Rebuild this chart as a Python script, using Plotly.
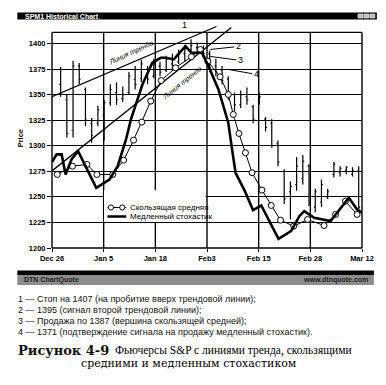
import plotly.graph_objects as go
import numpy as np

# ---------------- data ----------------
bar_day = list(range(49))
bar_high = [1377, 1350, 1383, 1381, 1357, 1327, 1339, 1345, 1360, 1362,
            1358, 1372, 1378, 1384, 1378, 1385, 1382, 1388, 1390, 1394,
            1398, 1404, 1401, 1398, 1393, 1385, 1378, 1368, 1352, 1354,
            1357, 1340, 1352, 1328, 1326, 1305, 1277, 1265, 1289, 1291,
            1282, 1258, 1267, 1258, 1284, 1280, 1280, 1279, 1280]
bar_low = [1348, 1308, 1308, 1360, 1319, 1303, 1319, 1305, 1339, 1340,
           1343, 1350, 1355, 1362, 1360, 1366, 1368, 1372, 1375, 1380,
           1382, 1386, 1389, 1386, 1372, 1368, 1360, 1345, 1334, 1337,
           1340, 1322, 1340, 1314, 1298, 1280, 1243, 1228, 1256, 1262,
           1241, 1235, 1240, 1248, 1269, 1270, 1272, 1270, 1236]
bar_open = [1360, 1345, 1315, 1378, 1355, 1322, 1322, 1330, 1342, 1352,
            1346, 1352, 1365, 1366, 1375, 1368, 1378, 1374, 1380, 1382,
            1390, 1394, 1396, 1392, 1390, 1378, 1374, 1365, 1350, 1340,
            1348, 1338, 1342, 1326, 1322, 1302, 1275, 1255, 1262, 1268,
            1280, 1240, 1245, 1250, 1272, 1274, 1276, 1272, 1276]
bar_close = [1352, 1312, 1378, 1365, 1325, 1310, 1335, 1342, 1355, 1345,
             1350, 1368, 1360, 1380, 1365, 1380, 1372, 1385, 1378, 1392,
             1395, 1398, 1392, 1390, 1376, 1372, 1364, 1350, 1340, 1350,
             1345, 1326, 1348, 1318, 1300, 1284, 1248, 1260, 1280, 1285,
             1245, 1255, 1262, 1255, 1282, 1278, 1279, 1276, 1240]

ma_day = [-0.54, 1.91, 4.24, 5.84, 8.39, 10.14, 11.74, 13.08, 14.51, 16.20,
          18.50, 21.05, 22.49, 23.70, 25.68, 27.0, 27.8, 28.71, 29.76, 30.83,
          32.42, 33.91, 35.41, 37.53, 39.76, 42.42, 44.27, 45.87, 47.74]
ma_value = [1271.9, 1280.0, 1281.7, 1271.9, 1271.9, 1285.9, 1305.4, 1323.1, 1343.6, 1363.8,
            1376.2, 1387.0, 1394.1, 1382.7, 1367.4, 1350.1, 1330.6, 1312.0, 1293.1, 1273.6,
            1256.6, 1241.6, 1227.2, 1221.4, 1227.9, 1222.0, 1232.8, 1245.8, 1232.8]

stoch_day = [-1.39, -0.64, 0.16, 0.80, 1.75, 2.81, 5.74, 7.86, 9.19, 10.53,
             11.32, 13.17, 14.77, 16.11, 16.91, 18.23, 20.10, 21.05, 22.74, 23.81,
             25.41, 27.0, 27.53, 28.17, 29.67, 30.99, 32.31, 35.09, 37.10, 38.44,
             39.23, 40.83, 43.48, 46.41, 47.74, 48.53]
stoch_value = [1284.0, 1291.5, 1291.5, 1271.9, 1286.6, 1294.7, 1258.9, 1267.0, 1280.0, 1306.1,
               1325.7, 1359.9, 1381.1, 1386.0, 1386.0, 1384.4, 1397.4, 1390.9, 1390.9, 1377.8,
               1355.0, 1322.5, 1299.6, 1273.6, 1255.6, 1237.0, 1241.6, 1209.0, 1216.5, 1231.1,
               1236.0, 1229.6, 1226.3, 1249.1, 1237.7, 1234.5]

trend1_day = [-1.39, 25.09]
trend1_price = [1348.0, 1416.6]
trend2_day = [-1.39, 27.48]
trend2_price = [1275.4, 1415.6]

x_tick_labels = ["Dec 26", "Jan 5", "Jan 18", "Feb3", "Feb 15", "Feb 28", "Mar 12"]
y_tick_values = [1200, 1225, 1250, 1275, 1300, 1325, 1350, 1375, 1400]

notes = [
    "1 — Стоп на 1407 (на пробитие вверх трендовой линии);",
    "2 — 1395 (сигнал второй трендовой линии);",
    "3 — Продажа по 1387 (вершина скользящей средней);",
    "4 — 1371 (подтверждение сигнала на продажу медленный стохастик).",
]
caption_head = "Рисунок 4-9"
caption1 = "Фьючерсы S&P с линиями тренда, скользящими"
caption2 = "средними и медленным стохастиком"

# ---------------- layout geometry ----------------
# the page body has an 8px margin, so the figure is placed 8px in from the window corner
OFF = 8
W, H = 386 - OFF, 385 - OFF
PL, PT, PR, PB = 52, 23, 365, 248          # plot-area edges in window pixels
L, T = PL - OFF, PT - OFF
R, B = W - (PR - OFF), H - (PB - OFF)
X0, X1 = -1.39, 48.53
Y0, Y1 = 1200, 1420
FRAME_TOP = 1410.8
pw, ph = PR - PL, PB - PT


def px(x):
    return (x - PL) / pw


def py(y):
    return (PB - y) / ph


frame_top_paper = (FRAME_TOP - Y0) / (Y1 - Y0)
x_tick_vals = list(np.linspace(X0, X1, len(x_tick_labels)))

fig = go.Figure()

fig.add_trace(go.Ohlc(
    x=bar_day, open=bar_open, high=bar_high, low=bar_low, close=bar_close,
    increasing=dict(line=dict(color="black", width=1.2)),
    decreasing=dict(line=dict(color="black", width=1.2)),
    tickwidth=0.22, showlegend=False, hoverinfo="skip"))

for xd, yd in ((trend1_day, trend1_price), (trend2_day, trend2_price)):
    fig.add_trace(go.Scatter(x=xd, y=yd, mode="lines",
                             line=dict(color="black", width=1.3),
                             showlegend=False, hoverinfo="skip"))

fig.add_trace(go.Scatter(x=ma_day, y=ma_value, mode="lines+markers",
                         line=dict(color="black", width=1),
                         marker=dict(symbol="circle", size=6, color="white",
                                     line=dict(color="black", width=1)),
                         showlegend=False, hoverinfo="skip"))

fig.add_trace(go.Scatter(x=stoch_day, y=stoch_value, mode="lines",
                         line=dict(color="black", width=2.6),
                         showlegend=False, hoverinfo="skip"))

shapes = []
n_t = len(x_tick_labels)
for k in range(n_t):
    shapes.append(dict(type="line", xref="paper", yref="paper",
                       x0=k / (n_t - 1), x1=k / (n_t - 1),
                       y0=0, y1=frame_top_paper,
                       line=dict(color="black", width=1.4), layer="below"))
shapes.append(dict(type="line", xref="paper", yref="paper", x0=0, x1=1,
                   y0=frame_top_paper, y1=frame_top_paper,
                   line=dict(color="black", width=1.4)))
shapes.append(dict(type="line", xref="paper", yref="paper", x0=0, x1=1,
                   y0=0, y1=0, line=dict(color="black", width=1.6)))
# legend box
shapes.append(dict(type="rect", xref="paper", yref="paper",
                   x0=px(104.5), x1=px(207), y0=py(222), y1=py(190),
                   fillcolor="white", line=dict(width=0), layer="above"))
shapes.append(dict(type="line", xref="paper", yref="paper",
                   x0=px(108), x1=px(127), y0=py(207.5), y1=py(207.5),
                   line=dict(color="black", width=1)))
for cx in (111.5, 123):
    shapes.append(dict(type="circle", xref="paper", yref="paper",
                       x0=px(cx - 2.6), x1=px(cx + 2.6), y0=py(207.5 + 2.6), y1=py(207.5 - 2.6),
                       fillcolor="white", line=dict(color="black", width=1)))
shapes.append(dict(type="line", xref="paper", yref="paper",
                   x0=px(108), x1=px(127), y0=py(216.5), y1=py(216.5),
                   line=dict(color="black", width=2.5)))
# window title bar
shapes.append(dict(type="rect", xref="paper", yref="paper",
                   x0=px(17), x1=px(380), y0=py(19.5), y1=py(12.5),
                   fillcolor="black", line=dict(width=0)))
for ix in (361, 367, 373):
    shapes.append(dict(type="rect", xref="paper", yref="paper",
                       x0=px(ix), x1=px(ix + 5), y0=py(18), y1=py(14),
                       fillcolor="#bbbbbb", line=dict(color="white", width=0.6)))
# bottom status bar
shapes.append(dict(type="rect", xref="paper", yref="paper",
                   x0=px(17), x1=px(377), y0=py(275), y1=py(270.5),
                   fillcolor="black", line=dict(width=0)))
shapes.append(dict(type="rect", xref="paper", yref="paper",
                   x0=px(17), x1=px(377), y0=py(285), y1=py(275),
                   fillcolor="#8c8c8c", line=dict(width=0)))

ann = []
ann.append(dict(xref="paper", yref="paper", x=px(23), y=py(16), xanchor="left", yanchor="middle",
                text="<b>SPM1 Historical Chart</b>", showarrow=False,
                font=dict(family="Liberation Sans", size=7, color="white")))
ann.append(dict(xref="paper", yref="paper", x=px(22), y=py(280), xanchor="left", yanchor="middle",
                text="<b>DTN ChartQuote</b>", showarrow=False,
                font=dict(family="Liberation Sans", size=7, color="#222222")))
ann.append(dict(xref="paper", yref="paper", x=px(373), y=py(280), xanchor="right", yanchor="middle",
                text="<b>www.dtnquote.com</b>", showarrow=False,
                font=dict(family="Liberation Sans", size=7, color="#222222")))
ann.append(dict(xref="paper", yref="paper", x=px(20), y=py(138), xanchor="center", yanchor="middle",
                text="<b>Price</b>", textangle=-90, showarrow=False,
                font=dict(family="Liberation Sans", size=7.5, color="black")))
ann.append(dict(xref="paper", yref="paper", x=px(129), y=py(207), xanchor="left", yanchor="middle",
                text="Скользящая средняя", showarrow=False,
                font=dict(family="Liberation Sans", size=8, color="black")))
ann.append(dict(xref="paper", yref="paper", x=px(129), y=py(216), xanchor="left", yanchor="middle",
                text="Медленный стохастик", showarrow=False,
                font=dict(family="Liberation Sans", size=8, color="black")))
ann.append(dict(x=11.3, y=1390.5, text="<i>Линия тренда</i>", textangle=-25, showarrow=False,
                font=dict(family="Liberation Sans", size=7, color="black")))
ann.append(dict(x=19.6, y=1361.5, text="<i>Линия тренда</i>", textangle=-39, showarrow=False,
                font=dict(family="Liberation Sans", size=7, color="black")))
ann.append(dict(x=20.0, y=1418.0, text="1", showarrow=False,
                font=dict(family="Liberation Sans", size=9, color="black")))
for lab, xd, yd, ax, ay in (("2", 24.1, 1394.1, 28, -3), ("3", 24.1, 1387.3, 30, 4),
                            ("4", 27.0, 1374.6, 28, 5)):
    ann.append(dict(x=xd, y=yd, text=lab, showarrow=True, arrowhead=0, arrowwidth=1,
                    arrowcolor="black", ax=ax, ay=ay, standoff=0,
                    font=dict(family="Liberation Sans", size=9, color="black")))
for i, line in enumerate(notes):
    ann.append(dict(xref="paper", yref="paper", x=px(16), y=py(299 + 11 * i),
                    xanchor="left", yanchor="middle", text=line, showarrow=False,
                    font=dict(family="Liberation Sans", size=9, color="#111111")))
ann.append(dict(xref="paper", yref="paper", x=px(16), y=py(350.5), xanchor="left", yanchor="middle",
                text="<b>" + caption_head + "</b>", showarrow=False,
                font=dict(family="DejaVu Serif", size=13, color="#111111")))
ann.append(dict(xref="paper", yref="paper", x=px(114), y=py(350.5), xanchor="left", yanchor="middle",
                text=caption1, showarrow=False,
                font=dict(family="Liberation Serif", size=11.5, color="#000000")))
ann.append(dict(xref="paper", yref="paper", x=px(190), y=py(363), xanchor="center", yanchor="middle",
                text=caption2, showarrow=False,
                font=dict(family="DejaVu Serif", size=11, color="#000000")))

fig.update_layout(
    width=W, height=H, margin=dict(l=L, r=R, t=T, b=B, pad=0),
    paper_bgcolor="white", plot_bgcolor="white",
    shapes=shapes, annotations=ann, showlegend=False,
    xaxis=dict(range=[X0, X1], tickvals=x_tick_vals, ticktext=x_tick_labels,
               showgrid=False, zeroline=False, showline=False,
               ticks="outside", ticklen=3, tickcolor="black",
               tickfont=dict(family="Liberation Sans", size=7.5, color="black", weight="bold"),
               rangeslider=dict(visible=False)),
    yaxis=dict(range=[Y0, Y1], tickvals=y_tick_values,
               showgrid=True, gridcolor="black", gridwidth=1.4, zeroline=False, showline=False,
               ticks="outside", ticklen=4, tickcolor="black",
               tickfont=dict(family="Liberation Sans", size=7.5, color="black", weight="bold")),
)

fig.write_html("out.html")
